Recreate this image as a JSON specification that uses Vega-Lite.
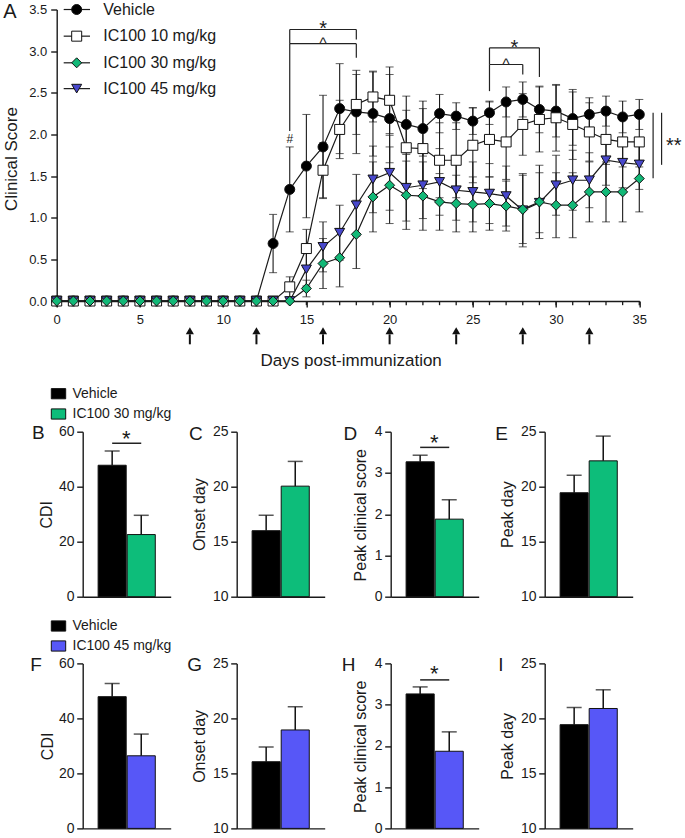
{
"$schema": "https://vega.github.io/schema/vega-lite/v6.json",
"padding": {"left": 0.7, "top": 1.5, "right": 0, "bottom": 0},
"config": {
  "font": "Liberation Sans",
  "view": {"stroke": null},
  "axis": {"domainColor": "#1a1a1a", "domainWidth": 1.4, "tickColor": "#1a1a1a", "tickWidth": 1.4, "labelColor": "#1a1a1a", "titleColor": "#1a1a1a", "labelFont": "Liberation Sans", "titleFont": "Liberation Sans", "titleFontWeight": "normal", "grid": false, "labelFlush": false, "labelOverlap": false},
  "text": {"font": "Liberation Sans", "color": "#1a1a1a"},
  "title": {"font": "Liberation Sans", "fontWeight": "normal", "color": "#1a1a1a"},
  "legend": {"labelFont": "Liberation Sans", "labelColor": "#1a1a1a"}
},
"datasets": {
  "series": [{"series": "Vehicle"}, {"series": "IC100 10 mg/kg"}, {"series": "IC100 30 mg/kg"}, {"series": "IC100 45 mg/kg"}],
  "arrows": [{"day": 8}, {"day": 12}, {"day": 16}, {"day": 20}, {"day": 24}, {"day": 28}, {"day": 32}],
  "brackets": [
    {"day": 14, "day2": 18, "score": 3.26, "score2": 3.26},
    {"day": 14, "day2": 14, "score": 3.26, "score2": 3.09},
    {"day": 18, "day2": 18, "score": 3.26, "score2": 3.14},
    {"day": 14, "day2": 18, "score": 3.09, "score2": 3.09},
    {"day": 14, "day2": 14, "score": 3.09, "score2": 2.04},
    {"day": 18, "day2": 18, "score": 3.09, "score2": 2.92},
    {"day": 26, "day2": 29, "score": 3.04, "score2": 3.04},
    {"day": 26, "day2": 26, "score": 3.04, "score2": 2.84},
    {"day": 29, "day2": 29, "score": 3.04, "score2": 2.69},
    {"day": 26, "day2": 28, "score": 2.84, "score2": 2.84},
    {"day": 26, "day2": 26, "score": 2.84, "score2": 2.52},
    {"day": 28, "day2": 28, "score": 2.84, "score2": 2.72},
    {"day": 35.83, "day2": 35.83, "score": 2.26, "score2": 1.475},
    {"day": 36.34, "day2": 36.34, "score": 2.26, "score2": 1.635}
  ],
  "notes": [
    {"day": 16, "score": 3.19, "label": "*"},
    {"day": 27.5, "score": 2.97, "label": "*"},
    {"day": 37.07, "score": 1.79, "label": "**"},
    {"day": 16, "score": 3.04, "label": "^"},
    {"day": 27, "score": 2.79, "label": "^"},
    {"day": 14, "score": 1.9, "label": "#"}
  ],
  "ts": [
    {"day":0,"series":"Vehicle","mean":0,"sem":0},{"day":1,"series":"Vehicle","mean":0,"sem":0},{"day":2,"series":"Vehicle","mean":0,"sem":0},{"day":3,"series":"Vehicle","mean":0,"sem":0},{"day":4,"series":"Vehicle","mean":0,"sem":0},{"day":5,"series":"Vehicle","mean":0,"sem":0},{"day":6,"series":"Vehicle","mean":0,"sem":0},{"day":7,"series":"Vehicle","mean":0,"sem":0},{"day":8,"series":"Vehicle","mean":0,"sem":0},{"day":9,"series":"Vehicle","mean":0,"sem":0},{"day":10,"series":"Vehicle","mean":0,"sem":0},{"day":11,"series":"Vehicle","mean":0,"sem":0},{"day":12,"series":"Vehicle","mean":0,"sem":0},
    {"day":13,"series":"Vehicle","mean":0.69,"sem":0.35},{"day":14,"series":"Vehicle","mean":1.34,"sem":0.51},{"day":15,"series":"Vehicle","mean":1.62,"sem":0.62},{"day":16,"series":"Vehicle","mean":1.85,"sem":0.62},{"day":17,"series":"Vehicle","mean":2.31,"sem":0.54},{"day":18,"series":"Vehicle","mean":2.27,"sem":0.5},{"day":19,"series":"Vehicle","mean":2.25,"sem":0.51},{"day":20,"series":"Vehicle","mean":2.19,"sem":0.53},{"day":21,"series":"Vehicle","mean":2.12,"sem":0.34},{"day":22,"series":"Vehicle","mean":2.07,"sem":0.33},{"day":23,"series":"Vehicle","mean":2.25,"sem":0.23},{"day":24,"series":"Vehicle","mean":2.22,"sem":0.16},{"day":25,"series":"Vehicle","mean":2.16,"sem":0.16},{"day":26,"series":"Vehicle","mean":2.26,"sem":0.14},{"day":27,"series":"Vehicle","mean":2.39,"sem":0.18},{"day":28,"series":"Vehicle","mean":2.42,"sem":0.21},{"day":29,"series":"Vehicle","mean":2.3,"sem":0.28},{"day":30,"series":"Vehicle","mean":2.28,"sem":0.31},{"day":31,"series":"Vehicle","mean":2.19,"sem":0.32},{"day":32,"series":"Vehicle","mean":2.24,"sem":0.2},{"day":33,"series":"Vehicle","mean":2.28,"sem":0.18},{"day":34,"series":"Vehicle","mean":2.21,"sem":0.19},{"day":35,"series":"Vehicle","mean":2.24,"sem":0.18},
    {"day":0,"series":"IC100 10 mg/kg","mean":0,"sem":0},{"day":1,"series":"IC100 10 mg/kg","mean":0,"sem":0},{"day":2,"series":"IC100 10 mg/kg","mean":0,"sem":0},{"day":3,"series":"IC100 10 mg/kg","mean":0,"sem":0},{"day":4,"series":"IC100 10 mg/kg","mean":0,"sem":0},{"day":5,"series":"IC100 10 mg/kg","mean":0,"sem":0},{"day":6,"series":"IC100 10 mg/kg","mean":0,"sem":0},{"day":7,"series":"IC100 10 mg/kg","mean":0,"sem":0},{"day":8,"series":"IC100 10 mg/kg","mean":0,"sem":0},{"day":9,"series":"IC100 10 mg/kg","mean":0,"sem":0},{"day":10,"series":"IC100 10 mg/kg","mean":0,"sem":0},{"day":11,"series":"IC100 10 mg/kg","mean":0,"sem":0},{"day":12,"series":"IC100 10 mg/kg","mean":0,"sem":0},{"day":13,"series":"IC100 10 mg/kg","mean":0,"sem":0},
    {"day":14,"series":"IC100 10 mg/kg","mean":0.17,"sem":0.12},{"day":15,"series":"IC100 10 mg/kg","mean":0.63,"sem":0.23},{"day":16,"series":"IC100 10 mg/kg","mean":1.57,"sem":0.33},{"day":17,"series":"IC100 10 mg/kg","mean":2.06,"sem":0.35},{"day":18,"series":"IC100 10 mg/kg","mean":2.36,"sem":0.36},{"day":19,"series":"IC100 10 mg/kg","mean":2.45,"sem":0.3},{"day":20,"series":"IC100 10 mg/kg","mean":2.41,"sem":0.4},{"day":21,"series":"IC100 10 mg/kg","mean":1.84,"sem":0.45},{"day":22,"series":"IC100 10 mg/kg","mean":1.83,"sem":0.48},{"day":23,"series":"IC100 10 mg/kg","mean":1.69,"sem":0.45},{"day":24,"series":"IC100 10 mg/kg","mean":1.69,"sem":0.45},{"day":25,"series":"IC100 10 mg/kg","mean":1.87,"sem":0.45},{"day":26,"series":"IC100 10 mg/kg","mean":1.94,"sem":0.45},{"day":27,"series":"IC100 10 mg/kg","mean":1.91,"sem":0.45},{"day":28,"series":"IC100 10 mg/kg","mean":2.12,"sem":0.37},{"day":29,"series":"IC100 10 mg/kg","mean":2.18,"sem":0.39},{"day":30,"series":"IC100 10 mg/kg","mean":2.2,"sem":0.4},{"day":31,"series":"IC100 10 mg/kg","mean":2.12,"sem":0.42},{"day":32,"series":"IC100 10 mg/kg","mean":2.03,"sem":0.35},{"day":33,"series":"IC100 10 mg/kg","mean":1.94,"sem":0.3},{"day":34,"series":"IC100 10 mg/kg","mean":1.91,"sem":0.3},{"day":35,"series":"IC100 10 mg/kg","mean":1.91,"sem":0.3},
    {"day":0,"series":"IC100 45 mg/kg","mean":0,"sem":0},{"day":1,"series":"IC100 45 mg/kg","mean":0,"sem":0},{"day":2,"series":"IC100 45 mg/kg","mean":0,"sem":0},{"day":3,"series":"IC100 45 mg/kg","mean":0,"sem":0},{"day":4,"series":"IC100 45 mg/kg","mean":0,"sem":0},{"day":5,"series":"IC100 45 mg/kg","mean":0,"sem":0},{"day":6,"series":"IC100 45 mg/kg","mean":0,"sem":0},{"day":7,"series":"IC100 45 mg/kg","mean":0,"sem":0},{"day":8,"series":"IC100 45 mg/kg","mean":0,"sem":0},{"day":9,"series":"IC100 45 mg/kg","mean":0,"sem":0},{"day":10,"series":"IC100 45 mg/kg","mean":0,"sem":0},{"day":11,"series":"IC100 45 mg/kg","mean":0,"sem":0},{"day":12,"series":"IC100 45 mg/kg","mean":0,"sem":0},{"day":13,"series":"IC100 45 mg/kg","mean":0,"sem":0},{"day":14,"series":"IC100 45 mg/kg","mean":0,"sem":0},
    {"day":15,"series":"IC100 45 mg/kg","mean":0.38,"sem":0.2},{"day":16,"series":"IC100 45 mg/kg","mean":0.65,"sem":0.3},{"day":17,"series":"IC100 45 mg/kg","mean":0.82,"sem":0.33},{"day":18,"series":"IC100 45 mg/kg","mean":1.15,"sem":0.37},{"day":19,"series":"IC100 45 mg/kg","mean":1.46,"sem":0.4},{"day":20,"series":"IC100 45 mg/kg","mean":1.54,"sem":0.45},{"day":21,"series":"IC100 45 mg/kg","mean":1.36,"sem":0.4},{"day":22,"series":"IC100 45 mg/kg","mean":1.39,"sem":0.4},{"day":23,"series":"IC100 45 mg/kg","mean":1.43,"sem":0.4},{"day":24,"series":"IC100 45 mg/kg","mean":1.33,"sem":0.36},{"day":25,"series":"IC100 45 mg/kg","mean":1.31,"sem":0.36},{"day":26,"series":"IC100 45 mg/kg","mean":1.29,"sem":0.36},{"day":27,"series":"IC100 45 mg/kg","mean":1.26,"sem":0.36},{"day":28,"series":"IC100 45 mg/kg","mean":1.09,"sem":0.44},{"day":29,"series":"IC100 45 mg/kg","mean":1.18,"sem":0.36},{"day":30,"series":"IC100 45 mg/kg","mean":1.39,"sem":0.36},{"day":31,"series":"IC100 45 mg/kg","mean":1.45,"sem":0.36},{"day":32,"series":"IC100 45 mg/kg","mean":1.45,"sem":0.33},{"day":33,"series":"IC100 45 mg/kg","mean":1.69,"sem":0.3},{"day":34,"series":"IC100 45 mg/kg","mean":1.66,"sem":0.3},{"day":35,"series":"IC100 45 mg/kg","mean":1.64,"sem":0.3},
    {"day":0,"series":"IC100 30 mg/kg","mean":0,"sem":0},{"day":1,"series":"IC100 30 mg/kg","mean":0,"sem":0},{"day":2,"series":"IC100 30 mg/kg","mean":0,"sem":0},{"day":3,"series":"IC100 30 mg/kg","mean":0,"sem":0},{"day":4,"series":"IC100 30 mg/kg","mean":0,"sem":0},{"day":5,"series":"IC100 30 mg/kg","mean":0,"sem":0},{"day":6,"series":"IC100 30 mg/kg","mean":0,"sem":0},{"day":7,"series":"IC100 30 mg/kg","mean":0,"sem":0},{"day":8,"series":"IC100 30 mg/kg","mean":0,"sem":0},{"day":9,"series":"IC100 30 mg/kg","mean":0,"sem":0},{"day":10,"series":"IC100 30 mg/kg","mean":0,"sem":0},{"day":11,"series":"IC100 30 mg/kg","mean":0,"sem":0},{"day":12,"series":"IC100 30 mg/kg","mean":0,"sem":0},{"day":13,"series":"IC100 30 mg/kg","mean":0,"sem":0},{"day":14,"series":"IC100 30 mg/kg","mean":0,"sem":0},
    {"day":15,"series":"IC100 30 mg/kg","mean":0.15,"sem":0.1},{"day":16,"series":"IC100 30 mg/kg","mean":0.45,"sem":0.3},{"day":17,"series":"IC100 30 mg/kg","mean":0.52,"sem":0.35},{"day":18,"series":"IC100 30 mg/kg","mean":0.8,"sem":0.41},{"day":19,"series":"IC100 30 mg/kg","mean":1.25,"sem":0.42},{"day":20,"series":"IC100 30 mg/kg","mean":1.39,"sem":0.46},{"day":21,"series":"IC100 30 mg/kg","mean":1.27,"sem":0.41},{"day":22,"series":"IC100 30 mg/kg","mean":1.26,"sem":0.41},{"day":23,"series":"IC100 30 mg/kg","mean":1.19,"sem":0.34},{"day":24,"series":"IC100 30 mg/kg","mean":1.17,"sem":0.34},{"day":25,"series":"IC100 30 mg/kg","mean":1.16,"sem":0.33},{"day":26,"series":"IC100 30 mg/kg","mean":1.17,"sem":0.32},{"day":27,"series":"IC100 30 mg/kg","mean":1.14,"sem":0.3},{"day":28,"series":"IC100 30 mg/kg","mean":1.1,"sem":0.41},{"day":29,"series":"IC100 30 mg/kg","mean":1.19,"sem":0.44},{"day":30,"series":"IC100 30 mg/kg","mean":1.15,"sem":0.39},{"day":31,"series":"IC100 30 mg/kg","mean":1.15,"sem":0.39},{"day":32,"series":"IC100 30 mg/kg","mean":1.31,"sem":0.36},{"day":33,"series":"IC100 30 mg/kg","mean":1.31,"sem":0.36},{"day":34,"series":"IC100 30 mg/kg","mean":1.31,"sem":0.36},{"day":35,"series":"IC100 30 mg/kg","mean":1.47,"sem":0.4}
  ],
  "bars": [
    {"panel": "B", "group": "Vehicle", "value": 47.8, "hi": 53.0},
    {"panel": "B", "group": "IC100 30 mg/kg", "value": 22.6, "hi": 29.6},
    {"panel": "C", "group": "Vehicle", "value": 16.0, "hi": 17.4},
    {"panel": "C", "group": "IC100 30 mg/kg", "value": 20.05, "hi": 22.3},
    {"panel": "D", "group": "Vehicle", "value": 3.27, "hi": 3.43},
    {"panel": "D", "group": "IC100 30 mg/kg", "value": 1.88, "hi": 2.35},
    {"panel": "E", "group": "Vehicle", "value": 19.45, "hi": 21.05},
    {"panel": "E", "group": "IC100 30 mg/kg", "value": 22.35, "hi": 24.6},
    {"panel": "F", "group": "Vehicle", "value": 47.9, "hi": 52.7},
    {"panel": "F", "group": "IC100 45 mg/kg", "value": 26.4, "hi": 34.3},
    {"panel": "G", "group": "Vehicle", "value": 16.06, "hi": 17.4},
    {"panel": "G", "group": "IC100 45 mg/kg", "value": 18.95, "hi": 21.06},
    {"panel": "H", "group": "Vehicle", "value": 3.26, "hi": 3.43},
    {"panel": "H", "group": "IC100 45 mg/kg", "value": 1.87, "hi": 2.34},
    {"panel": "I", "group": "Vehicle", "value": 19.43, "hi": 21.0},
    {"panel": "I", "group": "IC100 45 mg/kg", "value": 20.9, "hi": 22.6}
  ]
},
"columns": 1,
"align": "none",
"spacing": 18.2,
"resolve": {"scale": {"fill": "independent", "shape": "independent", "size": "independent"}, "legend": {"fill": "independent", "shape": "independent", "size": "independent"}},
"concat": [
{
  "width": 582.6, "height": 291.5,
  "layer": [
    {"data": {"name": "ts"}, "transform": [{"filter": "datum.series === 'Vehicle'"}], "mark": {"type": "rule", "color": "#1a1a1a", "strokeWidth": 1.3},
     "encoding": {"x": {"field": "day", "type": "quantitative", "title": "Days post-immunization", "scale": {"domain": [0, 35], "nice": false, "zero": false}},
                  "y": {"datum": 0, "type": "quantitative", "scale": {"domain": [0, 3.5], "nice": false, "zero": false}},
                  "y2": {"datum": -0.05}}},
    {"data": {"name": "arrows"}, "mark": {"type": "rule", "color": "#111111", "strokeWidth": 2},
     "encoding": {"x": {"field": "day", "type": "quantitative", "title": "Days post-immunization", "scale": {"domain": [0, 35], "nice": false, "zero": false}},
                  "y": {"datum": -0.4, "type": "quantitative", "scale": {"domain": [0, 3.5], "nice": false, "zero": false}},
                  "y2": {"datum": -0.52}}},
    {"data": {"name": "arrows"}, "mark": {"type": "point", "shape": "triangle-up", "filled": true, "color": "#111111", "size": 66, "opacity": 1},
     "encoding": {"x": {"field": "day", "type": "quantitative", "title": "Days post-immunization", "scale": {"domain": [0, 35], "nice": false, "zero": false}},
                  "y": {"datum": -0.358, "type": "quantitative", "scale": {"domain": [0, 3.5], "nice": false, "zero": false}}}},
    {"data": {"name": "brackets"}, "mark": {"type": "rule", "color": "#222222", "strokeWidth": 1.2},
     "encoding": {"x": {"field": "day", "type": "quantitative", "title": "Days post-immunization", "scale": {"domain": [0, 35], "nice": false, "zero": false}},
                  "x2": {"field": "day2"},
                  "y": {"field": "score", "type": "quantitative", "title": "Clinical Score", "scale": {"domain": [0, 3.5], "nice": false, "zero": false}},
                  "y2": {"field": "score2"}}},
    {"data": {"name": "notes"}, "transform": [{"filter": "datum.label === '*' || datum.label === '**'"}],
     "mark": {"type": "text", "fontSize": 20, "align": "center", "baseline": "alphabetic"},
     "encoding": {"x": {"field": "day", "type": "quantitative", "title": "Days post-immunization", "scale": {"domain": [0, 35], "nice": false, "zero": false}},
                  "y": {"field": "score", "type": "quantitative", "title": "Clinical Score", "scale": {"domain": [0, 3.5], "nice": false, "zero": false}},
                  "text": {"field": "label"}}},
    {"data": {"name": "notes"}, "transform": [{"filter": "datum.label === '^'"}],
     "mark": {"type": "text", "fontSize": 15, "align": "center", "baseline": "alphabetic"},
     "encoding": {"x": {"field": "day", "type": "quantitative", "title": "Days post-immunization", "scale": {"domain": [0, 35], "nice": false, "zero": false}},
                  "y": {"field": "score", "type": "quantitative", "title": "Clinical Score", "scale": {"domain": [0, 3.5], "nice": false, "zero": false}},
                  "text": {"field": "label"}}},
    {"data": {"name": "notes"}, "transform": [{"filter": "datum.label === '#'"}],
     "mark": {"type": "text", "fontSize": 12, "align": "center", "baseline": "alphabetic"},
     "encoding": {"x": {"field": "day", "type": "quantitative", "title": "Days post-immunization", "scale": {"domain": [0, 35], "nice": false, "zero": false}},
                  "y": {"field": "score", "type": "quantitative", "title": "Clinical Score", "scale": {"domain": [0, 3.5], "nice": false, "zero": false}},
                  "text": {"field": "label"}}},
    {"data": {"name": "series"}, "transform": [{"filter": "datum.series === 'Vehicle'"}],
     "mark": {"type": "text", "text": "A", "fontSize": 20, "align": "left", "baseline": "alphabetic"},
     "encoding": {"x": {"datum": -3.21, "type": "quantitative", "scale": {"domain": [0, 35], "nice": false, "zero": false}},
                  "y": {"datum": 3.398, "type": "quantitative", "scale": {"domain": [0, 3.5], "nice": false, "zero": false}}}},
    {"data": {"name": "ts"}, "transform": [{"filter": "datum.sem > 0"}],
     "mark": {"type": "errorbar", "ticks": {"size": 8, "color": "#1a1a1a", "strokeWidth": 1.1}, "rule": {"color": "#1a1a1a", "strokeWidth": 1.1}},
     "encoding": {"x": {"field": "day", "type": "quantitative", "title": "Days post-immunization", "scale": {"domain": [0, 35], "nice": false, "zero": false}},
                  "y": {"field": "mean", "type": "quantitative", "title": "Clinical Score", "scale": {"domain": [0, 3.5], "nice": false, "zero": false}},
                  "yError": {"field": "sem"}}},
    {"data": {"name": "ts"}, "mark": {"type": "line", "color": "#1a1a1a", "strokeWidth": 1.2},
     "encoding": {
       "x": {"field": "day", "type": "quantitative", "scale": {"domain": [0, 35], "nice": false, "zero": false},
             "axis": {"values": [0, 5, 10, 15, 20, 25, 30, 35], "format": "d", "labelOverlap": false, "labelFlush": false, "labelBound": false, "tickSize": 6, "labelPadding": 6, "labelFontSize": 13, "title": "Days post-immunization", "titleFontSize": 17, "titleX": 294, "titleY": 64, "titleBaseline": "alphabetic"}},
       "y": {"field": "mean", "type": "quantitative", "scale": {"domain": [0, 3.5], "nice": false, "zero": false},
             "axis": {"values": [0, 0.5, 1, 1.5, 2, 2.5, 3, 3.5], "format": ".1f", "labelOverlap": false, "title": "Clinical Score", "titleFontSize": 17, "titleX": -40.5, "titleY": 149, "titleBaseline": "alphabetic", "titleAngle": -90, "labelFontSize": 13, "tickSize": 6, "labelPadding": 4, "minExtent": 56}},
       "detail": {"field": "series"}}},
    {"data": {"name": "ts"}, "mark": {"type": "point", "filled": true, "stroke": "#111111", "strokeWidth": 1, "opacity": 1},
     "encoding": {
       "x": {"field": "day", "type": "quantitative", "title": "Days post-immunization", "scale": {"domain": [0, 35], "nice": false, "zero": false}},
       "y": {"field": "mean", "type": "quantitative", "title": "Clinical Score", "scale": {"domain": [0, 3.5], "nice": false, "zero": false}},
       "shape": {"field": "series", "type": "nominal", "scale": {"domain": ["Vehicle", "IC100 10 mg/kg", "IC100 30 mg/kg", "IC100 45 mg/kg"], "range": ["circle", "square", "diamond", "triangle-down"]}, "legend": null},
       "fill": {"field": "series", "type": "nominal", "scale": {"domain": ["Vehicle", "IC100 10 mg/kg", "IC100 30 mg/kg", "IC100 45 mg/kg"], "range": ["#000000", "#ffffff", "#12b877", "#4848cc"]}, "legend": null},
       "size": {"field": "series", "type": "ordinal", "scale": {"domain": ["Vehicle", "IC100 10 mg/kg", "IC100 30 mg/kg", "IC100 45 mg/kg"], "range": [100, 100, 150, 95]}, "legend": null}}},

    {"data": {"name": "series"}, "transform": [{"filter": "datum.series === 'Vehicle'"}], "mark": {"type": "rule", "color": "#1a1a1a", "strokeWidth": 1.2},
     "encoding": {"x": {"datum": 0.42, "type": "quantitative", "scale": {"domain": [0, 35], "nice": false, "zero": false}}, "x2": {"datum": 2.0}, "y": {"datum": 3.5, "type": "quantitative", "scale": {"domain": [0, 3.5], "nice": false, "zero": false}}}},
    {"data": {"name": "series"}, "transform": [{"filter": "datum.series === 'IC100 10 mg/kg'"}], "mark": {"type": "rule", "color": "#1a1a1a", "strokeWidth": 1.2},
     "encoding": {"x": {"datum": 0.42, "type": "quantitative", "scale": {"domain": [0, 35], "nice": false, "zero": false}}, "x2": {"datum": 2.0}, "y": {"datum": 3.18, "type": "quantitative", "scale": {"domain": [0, 3.5], "nice": false, "zero": false}}}},
    {"data": {"name": "series"}, "transform": [{"filter": "datum.series === 'IC100 30 mg/kg'"}], "mark": {"type": "rule", "color": "#1a1a1a", "strokeWidth": 1.2},
     "encoding": {"x": {"datum": 0.42, "type": "quantitative", "scale": {"domain": [0, 35], "nice": false, "zero": false}}, "x2": {"datum": 2.0}, "y": {"datum": 2.86, "type": "quantitative", "scale": {"domain": [0, 3.5], "nice": false, "zero": false}}}},
    {"data": {"name": "series"}, "transform": [{"filter": "datum.series === 'IC100 45 mg/kg'"}], "mark": {"type": "rule", "color": "#1a1a1a", "strokeWidth": 1.2},
     "encoding": {"x": {"datum": 0.42, "type": "quantitative", "scale": {"domain": [0, 35], "nice": false, "zero": false}}, "x2": {"datum": 2.0}, "y": {"datum": 2.55, "type": "quantitative", "scale": {"domain": [0, 3.5], "nice": false, "zero": false}}}},

    {"data": {"name": "series"}, "transform": [{"filter": "datum.series === 'Vehicle'"}], "mark": {"type": "point", "filled": true, "stroke": "#111111", "strokeWidth": 1, "opacity": 1},
     "encoding": {"x": {"datum": 1.2, "type": "quantitative", "scale": {"domain": [0, 35], "nice": false, "zero": false}}, "y": {"datum": 3.5, "type": "quantitative", "scale": {"domain": [0, 3.5], "nice": false, "zero": false}},
       "shape": {"field": "series", "type": "nominal", "scale": {"domain": ["Vehicle", "IC100 10 mg/kg", "IC100 30 mg/kg", "IC100 45 mg/kg"], "range": ["circle", "square", "diamond", "triangle-down"]}, "legend": null},
       "fill": {"field": "series", "type": "nominal", "scale": {"domain": ["Vehicle", "IC100 10 mg/kg", "IC100 30 mg/kg", "IC100 45 mg/kg"], "range": ["#000000", "#ffffff", "#12b877", "#4848cc"]}, "legend": null},
       "size": {"field": "series", "type": "ordinal", "scale": {"domain": ["Vehicle", "IC100 10 mg/kg", "IC100 30 mg/kg", "IC100 45 mg/kg"], "range": [100, 100, 150, 95]}, "legend": null}}},
    {"data": {"name": "series"}, "transform": [{"filter": "datum.series === 'IC100 10 mg/kg'"}], "mark": {"type": "point", "filled": true, "stroke": "#111111", "strokeWidth": 1, "opacity": 1},
     "encoding": {"x": {"datum": 1.2, "type": "quantitative", "scale": {"domain": [0, 35], "nice": false, "zero": false}}, "y": {"datum": 3.18, "type": "quantitative", "scale": {"domain": [0, 3.5], "nice": false, "zero": false}},
       "shape": {"field": "series", "type": "nominal", "scale": {"domain": ["Vehicle", "IC100 10 mg/kg", "IC100 30 mg/kg", "IC100 45 mg/kg"], "range": ["circle", "square", "diamond", "triangle-down"]}, "legend": null},
       "fill": {"field": "series", "type": "nominal", "scale": {"domain": ["Vehicle", "IC100 10 mg/kg", "IC100 30 mg/kg", "IC100 45 mg/kg"], "range": ["#000000", "#ffffff", "#12b877", "#4848cc"]}, "legend": null},
       "size": {"field": "series", "type": "ordinal", "scale": {"domain": ["Vehicle", "IC100 10 mg/kg", "IC100 30 mg/kg", "IC100 45 mg/kg"], "range": [100, 100, 150, 95]}, "legend": null}}},
    {"data": {"name": "series"}, "transform": [{"filter": "datum.series === 'IC100 30 mg/kg'"}], "mark": {"type": "point", "filled": true, "stroke": "#111111", "strokeWidth": 1, "opacity": 1},
     "encoding": {"x": {"datum": 1.2, "type": "quantitative", "scale": {"domain": [0, 35], "nice": false, "zero": false}}, "y": {"datum": 2.86, "type": "quantitative", "scale": {"domain": [0, 3.5], "nice": false, "zero": false}},
       "shape": {"field": "series", "type": "nominal", "scale": {"domain": ["Vehicle", "IC100 10 mg/kg", "IC100 30 mg/kg", "IC100 45 mg/kg"], "range": ["circle", "square", "diamond", "triangle-down"]}, "legend": null},
       "fill": {"field": "series", "type": "nominal", "scale": {"domain": ["Vehicle", "IC100 10 mg/kg", "IC100 30 mg/kg", "IC100 45 mg/kg"], "range": ["#000000", "#ffffff", "#12b877", "#4848cc"]}, "legend": null},
       "size": {"field": "series", "type": "ordinal", "scale": {"domain": ["Vehicle", "IC100 10 mg/kg", "IC100 30 mg/kg", "IC100 45 mg/kg"], "range": [100, 100, 150, 95]}, "legend": null}}},
    {"data": {"name": "series"}, "transform": [{"filter": "datum.series === 'IC100 45 mg/kg'"}], "mark": {"type": "point", "filled": true, "stroke": "#111111", "strokeWidth": 1, "opacity": 1},
     "encoding": {"x": {"datum": 1.2, "type": "quantitative", "scale": {"domain": [0, 35], "nice": false, "zero": false}}, "y": {"datum": 2.55, "type": "quantitative", "scale": {"domain": [0, 3.5], "nice": false, "zero": false}},
       "shape": {"field": "series", "type": "nominal", "scale": {"domain": ["Vehicle", "IC100 10 mg/kg", "IC100 30 mg/kg", "IC100 45 mg/kg"], "range": ["circle", "square", "diamond", "triangle-down"]}, "legend": null},
       "fill": {"field": "series", "type": "nominal", "scale": {"domain": ["Vehicle", "IC100 10 mg/kg", "IC100 30 mg/kg", "IC100 45 mg/kg"], "range": ["#000000", "#ffffff", "#12b877", "#4848cc"]}, "legend": null},
       "size": {"field": "series", "type": "ordinal", "scale": {"domain": ["Vehicle", "IC100 10 mg/kg", "IC100 30 mg/kg", "IC100 45 mg/kg"], "range": [100, 100, 150, 95]}, "legend": null}}},

    {"data": {"name": "series"}, "transform": [{"filter": "datum.series === 'Vehicle'"}], "mark": {"type": "text", "align": "left", "baseline": "middle", "fontSize": 16},
     "encoding": {"x": {"datum": 2.8, "type": "quantitative", "scale": {"domain": [0, 35], "nice": false, "zero": false}}, "y": {"datum": 3.5, "type": "quantitative", "scale": {"domain": [0, 3.5], "nice": false, "zero": false}}, "text": {"field": "series"}}},
    {"data": {"name": "series"}, "transform": [{"filter": "datum.series === 'IC100 10 mg/kg'"}], "mark": {"type": "text", "align": "left", "baseline": "middle", "fontSize": 16},
     "encoding": {"x": {"datum": 2.8, "type": "quantitative", "scale": {"domain": [0, 35], "nice": false, "zero": false}}, "y": {"datum": 3.18, "type": "quantitative", "scale": {"domain": [0, 3.5], "nice": false, "zero": false}}, "text": {"field": "series"}}},
    {"data": {"name": "series"}, "transform": [{"filter": "datum.series === 'IC100 30 mg/kg'"}], "mark": {"type": "text", "align": "left", "baseline": "middle", "fontSize": 16},
     "encoding": {"x": {"datum": 2.8, "type": "quantitative", "scale": {"domain": [0, 35], "nice": false, "zero": false}}, "y": {"datum": 2.86, "type": "quantitative", "scale": {"domain": [0, 3.5], "nice": false, "zero": false}}, "text": {"field": "series"}}},
    {"data": {"name": "series"}, "transform": [{"filter": "datum.series === 'IC100 45 mg/kg'"}], "mark": {"type": "text", "align": "left", "baseline": "middle", "fontSize": 16},
     "encoding": {"x": {"datum": 2.8, "type": "quantitative", "scale": {"domain": [0, 35], "nice": false, "zero": false}}, "y": {"datum": 2.55, "type": "quantitative", "scale": {"domain": [0, 3.5], "nice": false, "zero": false}}, "text": {"field": "series"}}}
  ]
},
{
  "columns": 1,
  "align": "none",
  "spacing": 14.7,
  "resolve": {"scale": {"fill": "independent"}, "legend": {"fill": "independent"}},
  "concat": [
  {
    "bounds": "flush",
    "spacing": 25,
    "resolve": {"scale": {"fill": "independent"}, "legend": {"fill": "independent"}},
    "hconcat": [
      {"width": 1, "height": 1, "data": {"values": []}, "mark": {"type": "point"}, "encoding": {}},
      {
        "bounds": "flush",
        "spacing": 66,
        "resolve": {"scale": {"fill": "independent"}, "legend": {"fill": "independent"}},
        "hconcat": [
          {
            "width": 88, "height": 165,
            "data": {"name": "bars"},
            "transform": [{"filter": "datum.panel === 'B'"}],
            "layer": [
              {"mark": {"type": "bar", "stroke": "#111111", "strokeWidth": 1},
               "encoding": {
                 "x": {"field": "group", "type": "nominal", "sort": ["Vehicle", "IC100 30 mg/kg"], "scale": {"paddingInner": 0.034, "paddingOuter": 0.53}, "axis": {"labels": false, "ticks": false, "title": null}},
                 "y": {"field": "value", "type": "quantitative", "scale": {"domain": [0, 60], "nice": false, "zero": false}, "axis": {"values": [0, 20, 40, 60], "title": "CDI", "titleX": -31, "titleY": 82.5, "titleAngle": -90, "titleBaseline": "alphabetic", "titleFontSize": 16, "labelFontSize": 14, "tickSize": 6, "labelPadding": 2.7}},
                 "fill": {"field": "group", "type": "nominal", "scale": {"domain": ["Vehicle", "IC100 30 mg/kg"], "range": ["#000000", "#0dbd7a"]},
                          "legend": {"orient": "none", "legendX": -31.2, "legendY": -45, "title": null, "symbolType": "M-1.2,-0.85H1.2V0.85H-1.2Z", "symbolSize": 144, "symbolStrokeColor": "#111111", "symbolStrokeWidth": 1, "symbolOpacity": 1, "labelFontSize": 14, "labelOffset": 7, "rowPadding": 4.3, "padding": 0}}}},
              {"mark": {"type": "rule", "color": "#111111", "strokeWidth": 1.5},
               "encoding": {"x": {"field": "group", "type": "nominal", "sort": ["Vehicle", "IC100 30 mg/kg"]}, "y": {"field": "value", "type": "quantitative"}, "y2": {"field": "hi"}}},
              {"mark": {"type": "tick", "color": "#111111", "thickness": 1.5, "size": 15},
               "encoding": {"x": {"field": "group", "type": "nominal", "sort": ["Vehicle", "IC100 30 mg/kg"]}, "y": {"field": "hi", "type": "quantitative"}}},
              {"mark": {"type": "line", "color": "#222222", "strokeWidth": 1.5},
               "encoding": {"x": {"field": "group", "type": "nominal", "sort": ["Vehicle", "IC100 30 mg/kg"]}, "y": {"datum": 55.8, "type": "quantitative"}}},
              {"transform": [{"filter": "datum.group === 'Vehicle'"}],
               "mark": {"type": "text", "text": "*", "fontSize": 22, "align": "center", "baseline": "alphabetic", "dy": 2.3},
               "encoding": {"x": {"field": "group", "type": "nominal", "sort": ["Vehicle", "IC100 30 mg/kg"], "bandPosition": 1}, "y": {"datum": 55.8, "type": "quantitative"}}},
              {"transform": [{"filter": "datum.group === 'Vehicle'"}],
               "mark": {"type": "text", "text": "B", "fontSize": 19, "align": "left", "baseline": "alphabetic"},
               "encoding": {"x": {"field": "group", "type": "nominal", "sort": ["Vehicle", "IC100 30 mg/kg"], "bandPosition": -2.357}, "y": {"datum": 57.24, "type": "quantitative"}}}
            ]
          },
          {
            "width": 88, "height": 165,
            "data": {"name": "bars"},
            "transform": [{"filter": "datum.panel === 'C'"}],
            "layer": [
              {"mark": {"type": "bar", "stroke": "#111111", "strokeWidth": 1},
               "encoding": {
                 "x": {"field": "group", "type": "nominal", "sort": ["Vehicle", "IC100 30 mg/kg"], "scale": {"paddingInner": 0.034, "paddingOuter": 0.53}, "axis": {"labels": false, "ticks": false, "title": null}},
                 "y": {"field": "value", "type": "quantitative", "scale": {"domain": [10, 25], "nice": false, "zero": false}, "axis": {"values": [10, 15, 20, 25], "title": "Onset day", "titleX": -32.3, "titleY": 82.5, "titleAngle": -90, "titleBaseline": "alphabetic", "titleFontSize": 16, "labelFontSize": 14, "tickSize": 6, "labelPadding": 2.7}},
                 "y2": {"datum": 10},
                 "fill": {"field": "group", "type": "nominal", "scale": {"domain": ["Vehicle", "IC100 30 mg/kg"], "range": ["#000000", "#0dbd7a"]}, "legend": null}}},
              {"mark": {"type": "rule", "color": "#111111", "strokeWidth": 1.5},
               "encoding": {"x": {"field": "group", "type": "nominal", "sort": ["Vehicle", "IC100 30 mg/kg"]}, "y": {"field": "value", "type": "quantitative"}, "y2": {"field": "hi"}}},
              {"mark": {"type": "tick", "color": "#111111", "thickness": 1.5, "size": 15},
               "encoding": {"x": {"field": "group", "type": "nominal", "sort": ["Vehicle", "IC100 30 mg/kg"]}, "y": {"field": "hi", "type": "quantitative"}}},
              {"transform": [{"filter": "datum.group === 'Vehicle'"}],
               "mark": {"type": "text", "text": "C", "fontSize": 19, "align": "left", "baseline": "alphabetic"},
               "encoding": {"x": {"field": "group", "type": "nominal", "sort": ["Vehicle", "IC100 30 mg/kg"], "bandPosition": -2.247}, "y": {"datum": 24.29, "type": "quantitative"}}}
            ]
          },
          {
            "width": 88, "height": 165,
            "data": {"name": "bars"},
            "transform": [{"filter": "datum.panel === 'D'"}],
            "layer": [
              {"mark": {"type": "bar", "stroke": "#111111", "strokeWidth": 1},
               "encoding": {
                 "x": {"field": "group", "type": "nominal", "sort": ["Vehicle", "IC100 30 mg/kg"], "scale": {"paddingInner": 0.034, "paddingOuter": 0.53}, "axis": {"labels": false, "ticks": false, "title": null}},
                 "y": {"field": "value", "type": "quantitative", "scale": {"domain": [0, 4], "nice": false, "zero": false}, "axis": {"values": [0, 1, 2, 3, 4], "title": "Peak clinical score", "titleX": -25, "titleY": 83, "titleAngle": -90, "titleBaseline": "alphabetic", "titleFontSize": 16, "labelFontSize": 14, "tickSize": 6, "labelPadding": 2.7}},
                 "fill": {"field": "group", "type": "nominal", "scale": {"domain": ["Vehicle", "IC100 30 mg/kg"], "range": ["#000000", "#0dbd7a"]}, "legend": null}}},
              {"mark": {"type": "rule", "color": "#111111", "strokeWidth": 1.5},
               "encoding": {"x": {"field": "group", "type": "nominal", "sort": ["Vehicle", "IC100 30 mg/kg"]}, "y": {"field": "value", "type": "quantitative"}, "y2": {"field": "hi"}}},
              {"mark": {"type": "tick", "color": "#111111", "thickness": 1.5, "size": 15},
               "encoding": {"x": {"field": "group", "type": "nominal", "sort": ["Vehicle", "IC100 30 mg/kg"]}, "y": {"field": "hi", "type": "quantitative"}}},
              {"mark": {"type": "line", "color": "#222222", "strokeWidth": 1.5},
               "encoding": {"x": {"field": "group", "type": "nominal", "sort": ["Vehicle", "IC100 30 mg/kg"]}, "y": {"datum": 3.62, "type": "quantitative"}}},
              {"transform": [{"filter": "datum.group === 'Vehicle'"}],
               "mark": {"type": "text", "text": "*", "fontSize": 22, "align": "center", "baseline": "alphabetic", "dy": 2.6},
               "encoding": {"x": {"field": "group", "type": "nominal", "sort": ["Vehicle", "IC100 30 mg/kg"], "bandPosition": 1}, "y": {"datum": 3.62, "type": "quantitative"}}},
              {"transform": [{"filter": "datum.group === 'Vehicle'"}],
               "mark": {"type": "text", "text": "D", "fontSize": 19, "align": "left", "baseline": "alphabetic"},
               "encoding": {"x": {"field": "group", "type": "nominal", "sort": ["Vehicle", "IC100 30 mg/kg"], "bandPosition": -2.229}, "y": {"datum": 3.8, "type": "quantitative"}}}
            ]
          },
          {
            "width": 88, "height": 165,
            "data": {"name": "bars"},
            "transform": [{"filter": "datum.panel === 'E'"}],
            "layer": [
              {"mark": {"type": "bar", "stroke": "#111111", "strokeWidth": 1},
               "encoding": {
                 "x": {"field": "group", "type": "nominal", "sort": ["Vehicle", "IC100 30 mg/kg"], "scale": {"paddingInner": 0.034, "paddingOuter": 0.53}, "axis": {"labels": false, "ticks": false, "title": null}},
                 "y": {"field": "value", "type": "quantitative", "scale": {"domain": [10, 25], "nice": false, "zero": false}, "axis": {"values": [10, 15, 20, 25], "title": "Peak day", "titleX": -32, "titleY": 82.5, "titleAngle": -90, "titleBaseline": "alphabetic", "titleFontSize": 16, "labelFontSize": 14, "tickSize": 6, "labelPadding": 2.7}},
                 "y2": {"datum": 10},
                 "fill": {"field": "group", "type": "nominal", "scale": {"domain": ["Vehicle", "IC100 30 mg/kg"], "range": ["#000000", "#0dbd7a"]}, "legend": null}}},
              {"mark": {"type": "rule", "color": "#111111", "strokeWidth": 1.5},
               "encoding": {"x": {"field": "group", "type": "nominal", "sort": ["Vehicle", "IC100 30 mg/kg"]}, "y": {"field": "value", "type": "quantitative"}, "y2": {"field": "hi"}}},
              {"mark": {"type": "tick", "color": "#111111", "thickness": 1.5, "size": 15},
               "encoding": {"x": {"field": "group", "type": "nominal", "sort": ["Vehicle", "IC100 30 mg/kg"]}, "y": {"field": "hi", "type": "quantitative"}}},
              {"transform": [{"filter": "datum.group === 'Vehicle'"}],
               "mark": {"type": "text", "text": "E", "fontSize": 19, "align": "left", "baseline": "alphabetic"},
               "encoding": {"x": {"field": "group", "type": "nominal", "sort": ["Vehicle", "IC100 30 mg/kg"], "bandPosition": -2.311}, "y": {"datum": 24.25, "type": "quantitative"}}}
            ]
          }
        ]
      }
    ]
  },
  {
    "bounds": "flush",
    "spacing": 25,
    "resolve": {"scale": {"fill": "independent"}, "legend": {"fill": "independent"}},
    "hconcat": [
      {"width": 1, "height": 1, "data": {"values": []}, "mark": {"type": "point"}, "encoding": {}},
      {
        "bounds": "flush",
        "spacing": 66,
        "resolve": {"scale": {"fill": "independent"}, "legend": {"fill": "independent"}},
        "hconcat": [
          {
            "width": 88, "height": 165,
            "data": {"name": "bars"},
            "transform": [{"filter": "datum.panel === 'F'"}],
            "layer": [
              {"mark": {"type": "bar", "stroke": "#111111", "strokeWidth": 1},
               "encoding": {
                 "x": {"field": "group", "type": "nominal", "sort": ["Vehicle", "IC100 45 mg/kg"], "scale": {"paddingInner": 0.034, "paddingOuter": 0.53}, "axis": {"labels": false, "ticks": false, "title": null}},
                 "y": {"field": "value", "type": "quantitative", "scale": {"domain": [0, 60], "nice": false, "zero": false}, "axis": {"values": [0, 20, 40, 60], "title": "CDI", "titleX": -30, "titleY": 82.5, "titleAngle": -90, "titleBaseline": "alphabetic", "titleFontSize": 16, "labelFontSize": 14, "tickSize": 6, "labelPadding": 2.7}},
                 "fill": {"field": "group", "type": "nominal", "scale": {"domain": ["Vehicle", "IC100 45 mg/kg"], "range": ["#000000", "#5757f7"]},
                          "legend": {"orient": "none", "legendX": -31.2, "legendY": -44.4, "title": null, "symbolType": "M-1.2,-0.85H1.2V0.85H-1.2Z", "symbolSize": 144, "symbolStrokeColor": "#111111", "symbolStrokeWidth": 1, "symbolOpacity": 1, "labelFontSize": 14, "labelOffset": 7, "rowPadding": 4, "padding": 0}}}},
              {"mark": {"type": "rule", "color": "#111111", "strokeWidth": 1.5},
               "encoding": {"x": {"field": "group", "type": "nominal", "sort": ["Vehicle", "IC100 45 mg/kg"]}, "y": {"field": "value", "type": "quantitative"}, "y2": {"field": "hi"}}},
              {"mark": {"type": "tick", "color": "#111111", "thickness": 1.5, "size": 15},
               "encoding": {"x": {"field": "group", "type": "nominal", "sort": ["Vehicle", "IC100 45 mg/kg"]}, "y": {"field": "hi", "type": "quantitative"}}},
              {"transform": [{"filter": "datum.group === 'Vehicle'"}],
               "mark": {"type": "text", "text": "F", "fontSize": 19, "align": "left", "baseline": "alphabetic"},
               "encoding": {"x": {"field": "group", "type": "nominal", "sort": ["Vehicle", "IC100 45 mg/kg"], "bandPosition": -2.418}, "y": {"datum": 57.35, "type": "quantitative"}}}
            ]
          },
          {
            "width": 88, "height": 165,
            "data": {"name": "bars"},
            "transform": [{"filter": "datum.panel === 'G'"}],
            "layer": [
              {"mark": {"type": "bar", "stroke": "#111111", "strokeWidth": 1},
               "encoding": {
                 "x": {"field": "group", "type": "nominal", "sort": ["Vehicle", "IC100 45 mg/kg"], "scale": {"paddingInner": 0.034, "paddingOuter": 0.53}, "axis": {"labels": false, "ticks": false, "title": null}},
                 "y": {"field": "value", "type": "quantitative", "scale": {"domain": [10, 25], "nice": false, "zero": false}, "axis": {"values": [10, 15, 20, 25], "title": "Onset day", "titleX": -32.3, "titleY": 82.5, "titleAngle": -90, "titleBaseline": "alphabetic", "titleFontSize": 16, "labelFontSize": 14, "tickSize": 6, "labelPadding": 2.7}},
                 "y2": {"datum": 10},
                 "fill": {"field": "group", "type": "nominal", "scale": {"domain": ["Vehicle", "IC100 45 mg/kg"], "range": ["#000000", "#5757f7"]}, "legend": null}}},
              {"mark": {"type": "rule", "color": "#111111", "strokeWidth": 1.5},
               "encoding": {"x": {"field": "group", "type": "nominal", "sort": ["Vehicle", "IC100 45 mg/kg"]}, "y": {"field": "value", "type": "quantitative"}, "y2": {"field": "hi"}}},
              {"mark": {"type": "tick", "color": "#111111", "thickness": 1.5, "size": 15},
               "encoding": {"x": {"field": "group", "type": "nominal", "sort": ["Vehicle", "IC100 45 mg/kg"]}, "y": {"field": "hi", "type": "quantitative"}}},
              {"transform": [{"filter": "datum.group === 'Vehicle'"}],
               "mark": {"type": "text", "text": "G", "fontSize": 19, "align": "left", "baseline": "alphabetic"},
               "encoding": {"x": {"field": "group", "type": "nominal", "sort": ["Vehicle", "IC100 45 mg/kg"], "bandPosition": -2.307}, "y": {"datum": 24.34, "type": "quantitative"}}}
            ]
          },
          {
            "width": 88, "height": 165,
            "data": {"name": "bars"},
            "transform": [{"filter": "datum.panel === 'H'"}],
            "layer": [
              {"mark": {"type": "bar", "stroke": "#111111", "strokeWidth": 1},
               "encoding": {
                 "x": {"field": "group", "type": "nominal", "sort": ["Vehicle", "IC100 45 mg/kg"], "scale": {"paddingInner": 0.034, "paddingOuter": 0.53}, "axis": {"labels": false, "ticks": false, "title": null}},
                 "y": {"field": "value", "type": "quantitative", "scale": {"domain": [0, 4], "nice": false, "zero": false}, "axis": {"values": [0, 1, 2, 3, 4], "title": "Peak clinical score", "titleX": -25, "titleY": 83, "titleAngle": -90, "titleBaseline": "alphabetic", "titleFontSize": 16, "labelFontSize": 14, "tickSize": 6, "labelPadding": 2.7}},
                 "fill": {"field": "group", "type": "nominal", "scale": {"domain": ["Vehicle", "IC100 45 mg/kg"], "range": ["#000000", "#5757f7"]}, "legend": null}}},
              {"mark": {"type": "rule", "color": "#111111", "strokeWidth": 1.5},
               "encoding": {"x": {"field": "group", "type": "nominal", "sort": ["Vehicle", "IC100 45 mg/kg"]}, "y": {"field": "value", "type": "quantitative"}, "y2": {"field": "hi"}}},
              {"mark": {"type": "tick", "color": "#111111", "thickness": 1.5, "size": 15},
               "encoding": {"x": {"field": "group", "type": "nominal", "sort": ["Vehicle", "IC100 45 mg/kg"]}, "y": {"field": "hi", "type": "quantitative"}}},
              {"mark": {"type": "line", "color": "#222222", "strokeWidth": 1.5},
               "encoding": {"x": {"field": "group", "type": "nominal", "sort": ["Vehicle", "IC100 45 mg/kg"]}, "y": {"datum": 3.6, "type": "quantitative"}}},
              {"transform": [{"filter": "datum.group === 'Vehicle'"}],
               "mark": {"type": "text", "text": "*", "fontSize": 22, "align": "center", "baseline": "alphabetic", "dy": 1.6},
               "encoding": {"x": {"field": "group", "type": "nominal", "sort": ["Vehicle", "IC100 45 mg/kg"], "bandPosition": 1}, "y": {"datum": 3.6, "type": "quantitative"}}},
              {"transform": [{"filter": "datum.group === 'Vehicle'"}],
               "mark": {"type": "text", "text": "H", "fontSize": 19, "align": "left", "baseline": "alphabetic"},
               "encoding": {"x": {"field": "group", "type": "nominal", "sort": ["Vehicle", "IC100 45 mg/kg"], "bandPosition": -2.289}, "y": {"datum": 3.823, "type": "quantitative"}}}
            ]
          },
          {
            "width": 88, "height": 165,
            "data": {"name": "bars"},
            "transform": [{"filter": "datum.panel === 'I'"}],
            "layer": [
              {"mark": {"type": "bar", "stroke": "#111111", "strokeWidth": 1},
               "encoding": {
                 "x": {"field": "group", "type": "nominal", "sort": ["Vehicle", "IC100 45 mg/kg"], "scale": {"paddingInner": 0.034, "paddingOuter": 0.53}, "axis": {"labels": false, "ticks": false, "title": null}},
                 "y": {"field": "value", "type": "quantitative", "scale": {"domain": [10, 25], "nice": false, "zero": false}, "axis": {"values": [10, 15, 20, 25], "title": "Peak day", "titleX": -32, "titleY": 82.5, "titleAngle": -90, "titleBaseline": "alphabetic", "titleFontSize": 16, "labelFontSize": 14, "tickSize": 6, "labelPadding": 2.7}},
                 "y2": {"datum": 10},
                 "fill": {"field": "group", "type": "nominal", "scale": {"domain": ["Vehicle", "IC100 45 mg/kg"], "range": ["#000000", "#5757f7"]}, "legend": null}}},
              {"mark": {"type": "rule", "color": "#111111", "strokeWidth": 1.5},
               "encoding": {"x": {"field": "group", "type": "nominal", "sort": ["Vehicle", "IC100 45 mg/kg"]}, "y": {"field": "value", "type": "quantitative"}, "y2": {"field": "hi"}}},
              {"mark": {"type": "tick", "color": "#111111", "thickness": 1.5, "size": 15},
               "encoding": {"x": {"field": "group", "type": "nominal", "sort": ["Vehicle", "IC100 45 mg/kg"]}, "y": {"field": "hi", "type": "quantitative"}}},
              {"transform": [{"filter": "datum.group === 'Vehicle'"}],
               "mark": {"type": "text", "text": "I", "fontSize": 19, "align": "left", "baseline": "alphabetic"},
               "encoding": {"x": {"field": "group", "type": "nominal", "sort": ["Vehicle", "IC100 45 mg/kg"], "bandPosition": -2.204}, "y": {"datum": 24.34, "type": "quantitative"}}}
            ]
          }
        ]
      }
    ]
  }
  ]
}
]
}
